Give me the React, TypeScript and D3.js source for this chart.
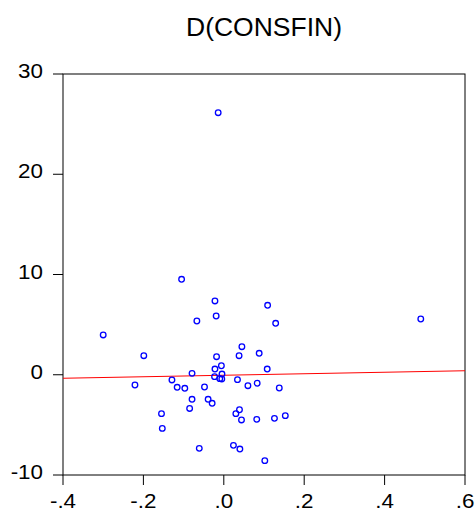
import React from "react";
import * as d3 from "d3";

// Scatter of D(CONSFIN) against the regressor, with fitted line
const xValues = [
  -0.014, -0.105, -0.022, 0.109, -0.067, -0.019, -0.3, 0.129, 0.49, -0.199,
  0.045, -0.018, 0.038, 0.088, -0.006, -0.022, 0.108, -0.079, -0.0045, -0.023,
  -0.01, -0.005, 0.034, -0.048, 0.06, 0.083, 0.138, -0.079, -0.039, -0.029,
  -0.085, 0.039, 0.03, 0.044, 0.082, 0.126, 0.153, -0.061, 0.024, 0.04,
  0.102, -0.221, -0.129, -0.116, -0.097, -0.155, -0.153,
];
const yValues = [
  26.14, 9.52, 7.36, 6.93, 5.36, 5.86, 3.97, 5.13, 5.56, 1.9,
  2.8, 1.8, 1.9, 2.14, 0.9, 0.57, 0.57, 0.14, 0.07, -0.19,
  -0.39, -0.42, -0.49, -1.22, -1.09, -0.85, -1.32, -2.45, -2.45, -2.85,
  -3.36, -3.49, -3.88, -4.51, -4.45, -4.35, -4.08, -7.34, -7.04, -7.41,
  -8.57, -1.02, -0.52, -1.25, -1.35, -3.88, -5.35,
];
const fitX = [-0.4, 0.6];
const fitY = [-0.35, 0.4];
const xTicks = [-0.4, -0.2, 0, 0.2, 0.4, 0.6];
const xTickLabels = ["-.4", "-.2", ".0", ".2", ".4", ".6"];
const yTicks = [-10, 0, 10, 20, 30];
const yTickLabels = ["-10", "0", "10", "20", "30"];
const title = "D(CONSFIN)";

const W = 475;
const H = 516;
const left = 63;
const right = 465;
const top = 74;
const bottom = 475;
const font = "'Liberation Sans', Arial, sans-serif";

export default function App() {
  const x = d3.scaleLinear().domain([-0.4, 0.6]).range([left, right]);
  const y = d3.scaleLinear().domain([-10, 30]).range([bottom, top]);
  const fitLine = d3
    .line<number>()
    .x((_, i) => x(fitX[i]))
    .y((_, i) => y(fitY[i]));

  return (
    <svg
      width={W}
      height={H}
      style={{ position: "absolute", left: 0, top: 0, background: "#fff" }}
    >
      <rect x={0} y={0} width={W} height={H} fill="#fff" />
      <text
        x={(left + right) / 2}
        y={36}
        textAnchor="middle"
        fontFamily={font}
        fontSize={25}
        textLength={156}
        lengthAdjust="spacingAndGlyphs"
        fill="#000"
      >
        {title}
      </text>

      {/* y axis ticks */}
      {yTicks.map((t, i) => (
        <g key={"y" + t}>
          <line x1={left - 10} x2={left} y1={y(t)} y2={y(t)} stroke="#000" strokeWidth={1} />
          <g transform={`translate(${left - 20},${y(t) + 4}) scale(1.12,1)`}>
            <text x={0} y={0} textAnchor="end" fontFamily={font} fontSize={20} fill="#000">
              {yTickLabels[i]}
            </text>
          </g>
        </g>
      ))}

      {/* x axis ticks */}
      {xTicks.map((t, i) => (
        <g key={"x" + t}>
          <line x1={x(t)} x2={x(t)} y1={bottom} y2={bottom + 10} stroke="#000" strokeWidth={1} />
          <g transform={`translate(${x(t)},${508}) scale(1.12,1)`}>
            <text x={0} y={0} textAnchor="middle" fontFamily={font} fontSize={20} fill="#000">
              {xTickLabels[i]}
            </text>
          </g>
        </g>
      ))}

      <rect
        x={left}
        y={top}
        width={right - left}
        height={bottom - top}
        fill="none"
        stroke="#000"
        strokeWidth={1}
      />

      <path d={fitLine(fitX) ?? ""} stroke="#ff0000" strokeWidth={1} fill="none" />

      {xValues.map((v, i) => (
        <circle
          key={i}
          cx={x(v)}
          cy={y(yValues[i])}
          r={2.8}
          fill="none"
          stroke="#0000ff"
          strokeWidth={1.3}
        />
      ))}
    </svg>
  );
}
